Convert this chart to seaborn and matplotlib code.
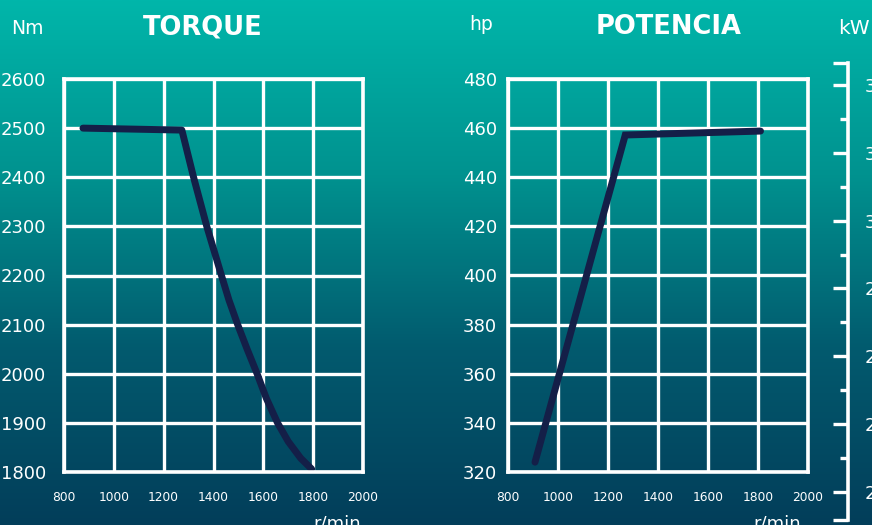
"""Torque / power curves (TORQUE, POTENCIA) on a teal gradient background."""
import numpy as np
import pandas as pd
import matplotlib.pyplot as plt
from matplotlib.colors import LinearSegmentedColormap
import seaborn as sns

# data
torque_rpm = [876, 1273, 1320, 1373, 1432, 1462, 1497,
              1535, 1575, 1612, 1657, 1700, 1750, 1794]
torque_nm = [2500, 2496, 2400, 2300, 2200, 2150, 2100,
             2050, 2000, 1950, 1900, 1862, 1828, 1806]

power_rpm = [908, 1269, 1810]
power_hp = [324, 457.2, 458.8]

rpm_ticks = [800, 1000, 1200, 1400, 1600, 1800, 2000]
nm_ticks = [1800, 1900, 2000, 2100, 2200, 2300, 2400, 2500, 2600]
hp_ticks = [320, 340, 360, 380, 400, 420, 440, 460, 480]
kw_major = [340, 320, 300, 280, 260, 240, 220]
kw_minor = [330, 310, 290, 270, 250, 230]

LINE = "#141f48"
WHITE = "white"
W, H = 872, 525

sns.set_theme(style="white")
plt.rcParams["font.family"] = ["DejaVu Sans"]

fig = plt.figure(figsize=(W / 100, H / 100), dpi=100)

# gradient background
bg = fig.add_axes([0, 0, 1, 1], zorder=-10)
cmap = LinearSegmentedColormap.from_list(
    "bg", ["#00b6aa", "#00928f", "#025a6e", "#033e5a"])
grad = np.linspace(0, 1, 256).reshape(-1, 1)
bg.imshow(grad, aspect="auto", cmap=cmap, extent=[0, 1, 0, 1])
bg.axis("off")


def px_axes(x0, x1, y_top, y_bot):
    return fig.add_axes([x0 / W, 1 - y_bot / H, (x1 - x0) / W, (y_bot - y_top) / H])


def style_grid(ax, yticks, ypad):
    ax.set_facecolor("none")
    ax.set_xlim(800, 2000)
    ax.set_ylim(yticks[0], yticks[-1])
    ax.set_xticks(rpm_ticks)
    ax.set_yticks(yticks)
    ax.grid(True, color=WHITE, lw=2.4)
    for sp in ax.spines.values():
        sp.set_visible(True)
        sp.set_color(WHITE)
        sp.set_linewidth(2.6)
    ax.tick_params(axis="x", length=0, pad=14, labelsize=8.8, labelcolor=WHITE)
    ax.tick_params(axis="y", length=0, pad=ypad, labelsize=13, labelcolor=WHITE)
    ax.set_xlabel("")
    ax.set_ylabel("")


# TORQUE
ax1 = px_axes(64, 363, 79, 472)
df_t = pd.DataFrame({"rpm": torque_rpm, "nm": torque_nm})
sns.lineplot(data=df_t, x="rpm", y="nm", ax=ax1, color=LINE, lw=5,
             sort=False, solid_capstyle="round", solid_joinstyle="round")
style_grid(ax1, nm_ticks, 13)

# POTENCIA
ax2 = px_axes(508, 808, 79, 472)
df_p = pd.DataFrame({"rpm": power_rpm, "hp": power_hp})
sns.lineplot(data=df_p, x="rpm", y="hp", ax=ax2, color=LINE, lw=5,
             sort=False, solid_capstyle="round", solid_joinstyle="miter")
style_grid(ax2, hp_ticks, 8)

# kW scale on the far right
axk = px_axes(828, 848, 63, 520)
axk.set_facecolor("none")
axk.set_ylim(211.7, 346.5)
axk.set_xticks([])
for name, sp in axk.spines.items():
    sp.set_visible(name == "right")
axk.spines["right"].set_color(WHITE)
axk.spines["right"].set_linewidth(2.6)
axk.yaxis.tick_right()
axk.set_yticks([346.5] + kw_major + [211.7], [""] + [str(v) for v in kw_major] + [""])
axk.set_yticks(kw_minor, minor=True)
axk.tick_params(axis="y", which="major", direction="in", length=11, width=2.4,
                color=WHITE, labelcolor=WHITE, labelsize=13, pad=12)
axk.tick_params(axis="y", which="minor", direction="in", length=6, width=2.4,
                color=WHITE)

# titles and units
fig.text(203 / W, 1 - 27 / H, "TORQUE", ha="center", va="center", color=WHITE,
         fontsize=18.5, fontweight="bold")
fig.text(669 / W, 1 - 27 / H, "POTENCIA", ha="center", va="center", color=WHITE,
         fontsize=18.5, fontweight="bold")
fig.text(27 / W, 1 - 28 / H, "Nm", ha="center", va="center", color=WHITE, fontsize=13.5)
fig.text(481 / W, 1 - 25 / H, "hp", ha="center", va="center", color=WHITE, fontsize=13.5)
fig.text(838 / W, 1 - 28 / H, "kW", ha="left", va="center", color=WHITE, fontsize=14.5)
fig.text(337 / W, 1 - 524 / H, "r/min", ha="center", va="center", color=WHITE, fontsize=13)
fig.text(777 / W, 1 - 524 / H, "r/min", ha="center", va="center", color=WHITE, fontsize=13)

fig.savefig("out.png", dpi=100)
